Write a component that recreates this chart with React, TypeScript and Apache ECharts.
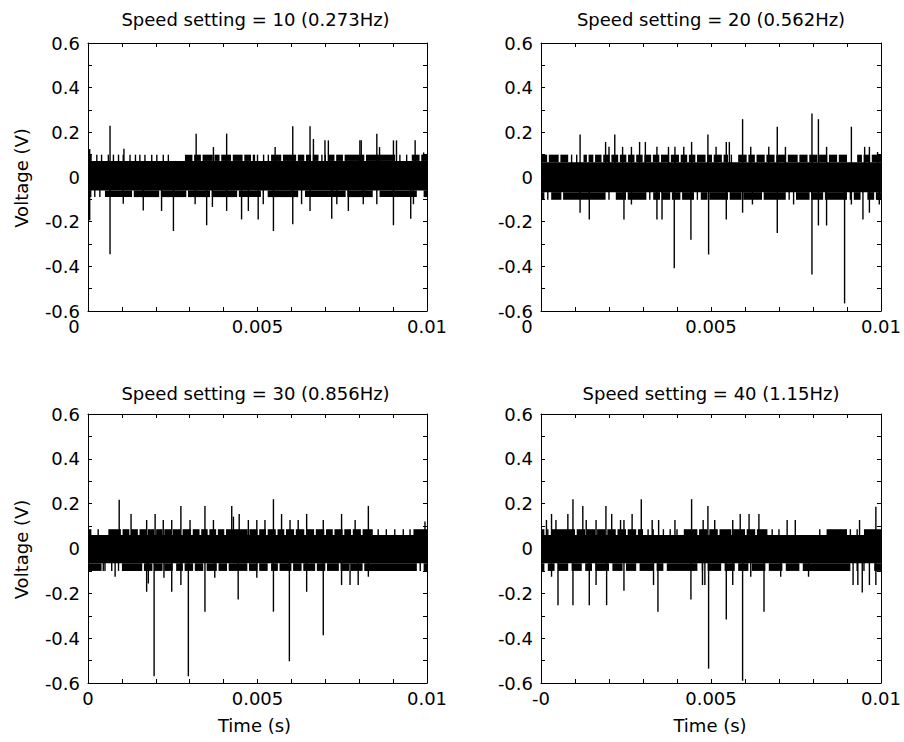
import React, { useEffect, useRef } from "react";
import * as echarts from "echarts";

// ---------- text / ticks ----------
const panelTitles = [
  "Speed setting = 10 (0.273Hz)",
  "Speed setting = 20 (0.562Hz)",
  "Speed setting = 30 (0.856Hz)",
  "Speed setting = 40 (1.15Hz)",
];
const yAxisName = "Voltage (V)";
const xAxisName = "Time (s)";
const xTickValues = [0, 0.005, 0.01];
const xTickLabelsA = ["0", "0.005", "0.01"];
const xTickLabelsB = ["-0", "0.005", "0.01"];
const yTickValues = [-0.6, -0.4, -0.2, 0, 0.2, 0.4, 0.6];
const yTickLabels = ["-0.6", "-0.4", "-0.2", "0", "0.2", "0.4", "0.6"];

// ---------- panel 1 ----------
// [coreLow, coreHigh, fullLow, fullHigh]
const p1Band = [-0.06, 0.072, -0.09, 0.1];
const p1TopGaps = [
  [0.00011, 0.00286], [0.00308, 0.00313], [0.00333, 0.00338], [0.00368, 0.00373],
  [0.00388, 0.00393], [0.00422, 0.00427], [0.00456, 0.00461], [0.00481, 0.00486],
  [0.00493, 0.0054], [0.0057, 0.00575], [0.00614, 0.00619], [0.00638, 0.00643],
  [0.00658, 0.00663], [0.0068, 0.00709], [0.00727, 0.00732], [0.00752, 0.00757],
  [0.00815, 0.0082], [0.00906, 0.00955], [0.00978, 0.00983],
];
const p1BotGaps = [
  [0.0001, 0.0005], [0.0013, 0.00135], [0.0021, 0.00215], [0.0029, 0.00295],
  [0.0036, 0.00365], [0.0044, 0.00445], [0.0051, 0.0053], [0.0062, 0.0064],
  [0.0076, 0.00765], [0.0084, 0.0086], [0.0097, 0.0099],
];
const p1TopTicks = [
  0.00026, 0.0004, 0.0006, 0.00075, 0.0009, 0.00104, 0.00124, 0.0014, 0.00153,
  0.00168, 0.00188, 0.00203, 0.00222, 0.00237, 0.005, 0.00518, 0.00532, 0.0069,
  0.007, 0.0092, 0.0094,
];
const p1BotTicks = [0.0002, 0.00035];
const p1Spikes = [
  [0.00005, 0.125], [0.00065, 0.23], [0.00106, 0.127], [0.00319, 0.194], [0.0037, 0.134],
  [0.00409, 0.194], [0.00552, 0.134], [0.00604, 0.227], [0.00655, 0.227], [0.00665, 0.17],
  [0.00699, 0.164], [0.00709, 0.164], [0.00802, 0.164], [0.00806, 0.164], [0.00852, 0.194],
  [0.0086, 0.134], [0.00901, 0.164], [0.0091, 0.164], [0.00965, 0.164], [0.0099, 0.11],
  [0.00005, -0.194], [0.00065, -0.346], [0.00104, -0.12], [0.00163, -0.15], [0.00217, -0.152],
  [0.00252, -0.242], [0.00316, -0.122], [0.0035, -0.216], [0.00367, -0.134], [0.00409, -0.152],
  [0.00453, -0.19], [0.00473, -0.152], [0.00502, -0.19], [0.00517, -0.122], [0.00547, -0.242],
  [0.00604, -0.212], [0.0063, -0.122], [0.00655, -0.152], [0.00719, -0.187], [0.00734, -0.122],
  [0.00768, -0.152], [0.00812, -0.122], [0.00852, -0.122], [0.00901, -0.216], [0.00952, -0.187],
  [0.0096, -0.122],
];

// ---------- panel 2 ----------
const p2Band = [-0.068, 0.066, -0.102, 0.1];
const p2TopGaps = [
  [0.00018, 0.00023], [0.00052, 0.00057], [0.0008, 0.00125], [0.00135, 0.0014],
  [0.00154, 0.00159], [0.00178, 0.00183], [0.00202, 0.00207], [0.00227, 0.00232],
  [0.00251, 0.00256], [0.00275, 0.0028], [0.00299, 0.00304], [0.00324, 0.00329],
  [0.00348, 0.00353], [0.00377, 0.00382], [0.00406, 0.00411], [0.0043, 0.00435],
  [0.00454, 0.00459], [0.00484, 0.00489], [0.00503, 0.00508], [0.00532, 0.00537],
  [0.0055, 0.0058], [0.00605, 0.0061], [0.00629, 0.00634], [0.00658, 0.00663],
  [0.00687, 0.00692], [0.00721, 0.00726], [0.00755, 0.0076], [0.00784, 0.00789],
  [0.00813, 0.00818], [0.00842, 0.00847], [0.00871, 0.00876], [0.009, 0.0093],
  [0.00944, 0.00949], [0.00968, 0.00973],
];
const p2BotGaps = [
  [0.0001, 0.0003], [0.0006, 0.00065], [0.0019, 0.0022], [0.0025, 0.00255],
  [0.0031, 0.0033], [0.0035, 0.00355], [0.0038, 0.00385], [0.0041, 0.00415],
  [0.0045, 0.0047], [0.0049, 0.00495], [0.0055, 0.00555], [0.0059, 0.00595],
  [0.0065, 0.00655], [0.0072, 0.0075], [0.0079, 0.00795], [0.0083, 0.00835],
  [0.009, 0.0092], [0.0094, 0.0096], [0.0098, 0.00985],
];
const p2TopTicks = [0.0009, 0.00105, 0.0056];
const p2BotTicks = [0.0002, 0.002, 0.0032, 0.0046, 0.0073, 0.0091];
const p2Spikes = [
  [0.00115, 0.19], [0.0019, 0.157], [0.002, 0.135], [0.00217, 0.19], [0.0024, 0.135],
  [0.00266, 0.135], [0.0029, 0.157], [0.00307, 0.157], [0.00341, 0.135], [0.00375, 0.135],
  [0.00394, 0.135], [0.0042, 0.135], [0.00443, 0.157], [0.00491, 0.19], [0.00515, 0.135],
  [0.00545, 0.157], [0.00554, 0.157], [0.00593, 0.259], [0.00617, 0.135], [0.0067, 0.135],
  [0.00695, 0.225], [0.00719, 0.135], [0.00797, 0.284], [0.00816, 0.259], [0.0084, 0.135],
  [0.00913, 0.225], [0.00952, 0.135], [0.00966, 0.135], [0.0099, 0.112],
  [0.00115, -0.16], [0.00142, -0.19], [0.00244, -0.19], [0.00266, -0.123], [0.00341, -0.19],
  [0.00356, -0.19], [0.00392, -0.409], [0.00441, -0.281], [0.00493, -0.347], [0.00545, -0.19],
  [0.00593, -0.16], [0.00622, -0.123], [0.00695, -0.251], [0.00743, -0.123], [0.00797, -0.437],
  [0.00816, -0.217], [0.0084, -0.217], [0.00893, -0.566], [0.00913, -0.123], [0.00947, -0.19],
  [0.00966, -0.16], [0.00995, -0.123],
];

// ---------- panel 3 ----------
const p3Band = [-0.066, 0.06, -0.1, 0.086];
const p3TopGaps = [
  [0.0001, 0.0006], [0.00097, 0.00102], [0.00122, 0.00127], [0.00147, 0.00152],
  [0.00171, 0.00176], [0.00196, 0.00201], [0.0022, 0.00225], [0.00245, 0.0025],
  [0.00274, 0.00279], [0.00304, 0.00309], [0.00329, 0.00334], [0.00353, 0.00358],
  [0.00378, 0.00383], [0.00402, 0.00407], [0.00471, 0.00476], [0.005, 0.00505],
  [0.00525, 0.0053], [0.00554, 0.00559], [0.00579, 0.00584], [0.00608, 0.00613],
  [0.00638, 0.00643], [0.00667, 0.00672], [0.00697, 0.00702], [0.00722, 0.00727],
  [0.00751, 0.00756], [0.00776, 0.00781], [0.00805, 0.0081], [0.0084, 0.0096],
];
const p3BotGaps = [
  [0.0004, 0.001], [0.0016, 0.00165], [0.0019, 0.00195], [0.0022, 0.00225],
  [0.0025, 0.0026], [0.0028, 0.00285], [0.0031, 0.00315], [0.0034, 0.0035],
  [0.0038, 0.00385], [0.0041, 0.00415], [0.0047, 0.00475], [0.005, 0.00505],
  [0.0053, 0.0054], [0.0056, 0.00565], [0.006, 0.00605], [0.0063, 0.00635],
  [0.0067, 0.00675], [0.007, 0.00705], [0.0074, 0.00745], [0.0077, 0.00775],
  [0.0081, 0.00815], [0.0097, 0.0099],
];
const p3TopTicks = [0.0003, 0.00856, 0.0088, 0.00905, 0.0093, 0.0095];
const p3BotTicks = [0.0005, 0.0007, 0.0009, 0.0098];
const p3Spikes = [
  [0.00092, 0.217], [0.00127, 0.154], [0.00173, 0.127], [0.00198, 0.154], [0.00222, 0.127],
  [0.00247, 0.127], [0.00274, 0.19], [0.00301, 0.127], [0.00345, 0.19], [0.0037, 0.127],
  [0.00424, 0.19], [0.00429, 0.142], [0.00446, 0.154], [0.00473, 0.127], [0.00498, 0.127],
  [0.00522, 0.127], [0.00547, 0.22], [0.00571, 0.154], [0.00596, 0.127], [0.0062, 0.127],
  [0.00645, 0.154], [0.00694, 0.127], [0.00748, 0.154], [0.00788, 0.127], [0.00827, 0.19],
  [0.00994, 0.12],
  [0.00045, -0.1], [0.0008, -0.126], [0.00173, -0.193], [0.00178, -0.156], [0.00195, -0.57],
  [0.00224, -0.13], [0.00247, -0.193], [0.00274, -0.163], [0.00296, -0.57], [0.00345, -0.282],
  [0.00374, -0.13], [0.00443, -0.227], [0.00498, -0.13], [0.00547, -0.282], [0.00594, -0.503],
  [0.00645, -0.193], [0.00694, -0.387], [0.00748, -0.163], [0.00773, -0.163], [0.00797, -0.163],
  [0.00827, -0.126],
];

// ---------- panel 4 ----------
const p4Band = [-0.066, 0.06, -0.1, 0.086];
const p4TopGaps = [
  [0.0001, 0.0003], [0.001, 0.00105], [0.0013, 0.00135], [0.0016, 0.00165],
  [0.0019, 0.00195], [0.0022, 0.00225], [0.0025, 0.00255], [0.0028, 0.00285],
  [0.003, 0.0042], [0.0046, 0.00465], [0.0049, 0.00495], [0.0052, 0.00525],
  [0.0056, 0.00565], [0.006, 0.00605], [0.0063, 0.00635], [0.00666, 0.0084],
  [0.009, 0.0095],
];
const p4BotGaps = [
  [0.0001, 0.0002], [0.0004, 0.0005], [0.0008, 0.0009], [0.0012, 0.0013],
  [0.0015, 0.0016], [0.002, 0.0021], [0.0024, 0.0025], [0.0028, 0.0029],
  [0.0033, 0.0034], [0.0036, 0.0037], [0.0046, 0.0049], [0.0053, 0.0054],
  [0.0057, 0.0058], [0.0061, 0.0062], [0.0066, 0.0067], [0.0071, 0.0072],
  [0.0076, 0.0077], [0.0091, 0.0098],
];
const p4TopTicks = [0.0002, 0.00315, 0.0033, 0.0036, 0.0038, 0.004, 0.0068, 0.007, 0.0082, 0.0091, 0.0093];
const p4BotTicks = [0.00475, 0.0093, 0.0095];
const p4Spikes = [
  [0.00016, 0.127], [0.00031, 0.154], [0.00044, 0.127], [0.00079, 0.154], [0.00094, 0.22],
  [0.00123, 0.19], [0.00133, 0.127], [0.00162, 0.127], [0.00191, 0.19], [0.00208, 0.154],
  [0.00234, 0.127], [0.00244, 0.127], [0.00268, 0.154], [0.00295, 0.22], [0.00327, 0.127],
  [0.00346, 0.127], [0.00394, 0.127], [0.00443, 0.22], [0.00477, 0.127], [0.00491, 0.19],
  [0.00511, 0.127], [0.00564, 0.127], [0.00586, 0.154], [0.00612, 0.154], [0.00641, 0.154],
  [0.00724, 0.127], [0.00748, 0.127], [0.00937, 0.127], [0.00985, 0.186],
  [0.00031, -0.126], [0.0005, -0.253], [0.00094, -0.253], [0.00142, -0.253], [0.00162, -0.163],
  [0.00193, -0.253], [0.00244, -0.189], [0.00331, -0.163], [0.00344, -0.282], [0.00441, -0.227],
  [0.00475, -0.163], [0.00482, -0.163], [0.00493, -0.536], [0.00545, -0.317], [0.00564, -0.163],
  [0.00593, -0.59], [0.00617, -0.126], [0.00656, -0.282], [0.00705, -0.126], [0.00787, -0.126],
  [0.00918, -0.163], [0.00932, -0.163], [0.00945, -0.196], [0.00966, -0.163], [0.00985, -0.163],
];

const T_MIN = 0;
const T_MAX = 0.01;

const panels = [
  { band: p1Band, topGaps: p1TopGaps, botGaps: p1BotGaps, topTicks: p1TopTicks, botTicks: p1BotTicks, spikes: p1Spikes },
  { band: p2Band, topGaps: p2TopGaps, botGaps: p2BotGaps, topTicks: p2TopTicks, botTicks: p2BotTicks, spikes: p2Spikes },
  { band: p3Band, topGaps: p3TopGaps, botGaps: p3BotGaps, topTicks: p3TopTicks, botTicks: p3BotTicks, spikes: p3Spikes },
  { band: p4Band, topGaps: p4TopGaps, botGaps: p4BotGaps, topTicks: p4TopTicks, botTicks: p4BotTicks, spikes: p4Spikes },
];

// ---------- layout (styling only) ----------
const FONT = '"DejaVu Sans", sans-serif';
const FS = 18;
const gridBoxes = [
  { left: 88, top: 43, width: 339, height: 268 },
  { left: 541, top: 43, width: 344, height: 268 },
  { left: 88, top: 414, width: 339, height: 269 },
  { left: 541, top: 414, width: 344, height: 269 },
];
const titleY = [19, 19, 393, 393];

function runsFromGaps(gaps: number[][]) {
  const out: number[][] = [];
  let cur = T_MIN;
  for (const [a, b] of gaps) {
    if (a > cur) out.push([cur, a]);
    cur = Math.max(cur, b);
  }
  if (cur < T_MAX) out.push([cur, T_MAX]);
  return out;
}

function buildOption() {
  const grid: any[] = [];
  const xAxis: any[] = [];
  const yAxis: any[] = [];
  const series: any[] = [];
  const graphic: any[] = [];

  panels.forEach((p, i) => {
    const g = gridBoxes[i];
    grid.push({ ...g, containLabel: false });
    const xLabels = i === 3 ? xTickLabelsB : xTickLabelsA;
    const shiftZero = i < 2;
    const tickStyle = { show: true, inside: true, length: 4, lineStyle: { color: "#000", width: 1 } };
    const lineStyle = { show: true, onZero: false, lineStyle: { color: "#000", width: 1 } };
    xAxis.push({
      type: "value", gridIndex: i, position: "bottom", min: T_MIN, max: T_MAX, interval: 0.001,
      axisLine: lineStyle, axisTick: tickStyle, splitLine: { show: false },
      axisLabel: {
        show: true, showMinLabel: true, showMaxLabel: true, margin: 6,
        color: "#000", fontFamily: FONT, fontSize: FS,
        formatter: (v: number) => {
          const k = xTickValues.findIndex((t) => Math.abs(t - v) < 1e-9);
          if (k < 0) return "";
          if (k === 0 && shiftZero) return "{z|" + xLabels[0] + "}";
          return xLabels[k];
        },
        rich: { z: { color: "#000", fontFamily: FONT, fontSize: FS, padding: [0, 28, 0, 0] } },
      },
    });
    xAxis.push({
      type: "value", gridIndex: i, position: "top", min: T_MIN, max: T_MAX, interval: 0.001,
      axisLine: lineStyle, axisTick: tickStyle, splitLine: { show: false }, axisLabel: { show: false },
    });
    yAxis.push({
      type: "value", gridIndex: i, position: "left", min: -0.6, max: 0.6, interval: 0.1,
      axisLine: lineStyle, axisTick: tickStyle, splitLine: { show: false },
      axisLabel: {
        show: true, showMinLabel: true, showMaxLabel: true, margin: 8,
        color: "#000", fontFamily: FONT, fontSize: FS,
        formatter: (v: number) => {
          const k = yTickValues.findIndex((t) => Math.abs(t - v) < 1e-6);
          return k < 0 ? "" : yTickLabels[k];
        },
      },
    });
    yAxis.push({
      type: "value", gridIndex: i, position: "right", min: -0.6, max: 0.6, interval: 0.1,
      axisLine: lineStyle, axisTick: tickStyle, splitLine: { show: false }, axisLabel: { show: false },
    });

    const [coreLo, coreHi, fullLo, fullHi] = p.band;
    const rects: number[][] = [[T_MIN, T_MAX, coreLo, coreHi]];
    runsFromGaps(p.topGaps).forEach(([a, b]) => rects.push([a, b, coreHi, fullHi]));
    runsFromGaps(p.botGaps).forEach(([a, b]) => rects.push([a, b, fullLo, coreLo]));

    series.push({
      type: "custom", xAxisIndex: i * 2, yAxisIndex: i * 2, silent: true, clip: true,
      data: rects,
      renderItem: (_params: any, api: any) => {
        const a = api.coord([api.value(0), api.value(3)]);
        const b = api.coord([api.value(1), api.value(2)]);
        return {
          type: "rect",
          shape: { x: a[0], y: a[1], width: Math.max(1, b[0] - a[0]), height: b[1] - a[1] },
          style: { fill: "#000" },
        };
      },
    });

    const lines: number[][] = [
      ...p.spikes,
      ...p.topTicks.map((t) => [t, fullHi]),
      ...p.botTicks.map((t) => [t, fullLo]),
    ];
    series.push({
      type: "custom", xAxisIndex: i * 2, yAxisIndex: i * 2, silent: true, clip: true,
      data: lines,
      renderItem: (_params: any, api: any) => {
        const a = api.coord([api.value(0), 0]);
        const b = api.coord([api.value(0), api.value(1)]);
        return {
          type: "line",
          shape: { x1: a[0], y1: a[1], x2: b[0], y2: b[1] },
          style: { stroke: "#000", lineWidth: 1.4 },
        };
      },
    });

    graphic.push({
      type: "text", x: g.left + g.width / 2 - 2, y: titleY[i],
      style: { text: panelTitles[i], textAlign: "center", textVerticalAlign: "middle", fontFamily: FONT, fontSize: FS, fill: "#000" },
    });
    if (i % 2 === 0) {
      graphic.push({
        type: "text", x: 21, y: g.top + g.height / 2 + 1, rotation: Math.PI / 2,
        style: { text: yAxisName, textAlign: "center", textVerticalAlign: "middle", fontFamily: FONT, fontSize: FS, fill: "#000" },
      });
    }
    if (i >= 2) {
      graphic.push({
        type: "text", x: g.left + g.width / 2 - 3, y: 725,
        style: { text: xAxisName, textAlign: "center", textVerticalAlign: "middle", fontFamily: FONT, fontSize: FS, fill: "#000" },
      });
    }
  });

  return {
    animation: false,
    backgroundColor: "#fff",
    textStyle: { fontFamily: FONT },
    grid, xAxis, yAxis, series, graphic,
  };
}

export default function App() {
  const ref = useRef<HTMLDivElement>(null);
  useEffect(() => {
    if (!ref.current) return;
    const chart = echarts.init(ref.current, undefined, { renderer: "svg" });
    chart.setOption(buildOption() as any);
    return () => chart.dispose();
  }, []);
  return (
    <div
      ref={ref}
      style={{ position: "fixed", left: 0, top: 0, width: 904, height: 742, background: "#fff" }}
    />
  );
}
